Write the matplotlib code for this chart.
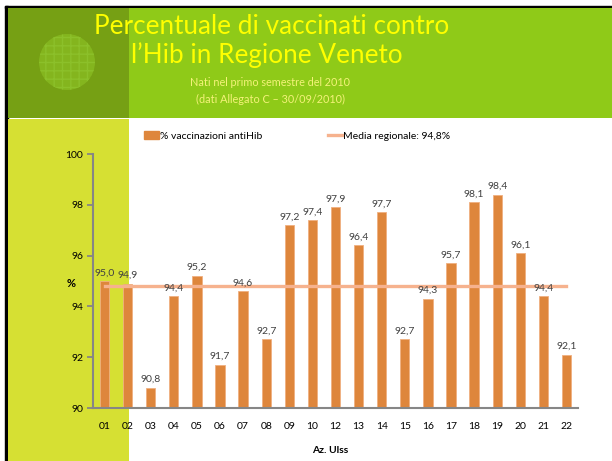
import numpy as np
import matplotlib
matplotlib.use("Agg")
import matplotlib.pyplot as plt
from matplotlib.patches import Rectangle, Circle
from matplotlib.lines import Line2D
from matplotlib.patches import Patch

# Data
ulss = ["01", "02", "03", "04", "05", "06", "07", "08", "09", "10", "12",
        "13", "14", "15", "16", "17", "18", "19", "20", "21", "22"]
vacc = [95.0, 94.9, 90.8, 94.4, 95.2, 91.7, 94.6, 92.7, 97.2, 97.4, 97.9,
        96.4, 97.7, 92.7, 94.3, 95.7, 98.1, 98.4, 96.1, 94.4, 92.1]
media = 94.8

W, H = 612, 461
plt.rcParams["font.family"] = ["Lato", "DejaVu Sans"]
plt.rcParams["hatch.color"] = "#92C82E"
fig = plt.figure(figsize=(W / 100, H / 100), dpi=100)

# Slide background (pixel coordinates)
bg = fig.add_axes([0, 0, 1, 1])
bg.set_xlim(0, W)
bg.set_ylim(H, 0)
bg.axis("off")
bg.add_patch(Rectangle((5, 6), W - 5, 2.5, color="black"))
bg.add_patch(Rectangle((5, 6), 2.5, H - 6, color="black"))
bg.add_patch(Rectangle((7.5, 8.5), 121, 110, color="#76A014", lw=0))
bg.add_patch(Rectangle((128.5, 8.5), W - 128.5, 110, color="#8FCA18", lw=0))
bg.add_patch(Rectangle((7.5, 118.5), 121, H - 118.5, color="#D6E033", lw=0))
bg.add_patch(Circle((67, 62), 28, facecolor="#84B51E", edgecolor="#8CC02A",
                    hatch="++", lw=0))

bg.text(272, 26, "Percentuale di vaccinati contro", color="#FFFF00",
        fontsize=18.8, ha="center", va="center")
bg.text(267, 55, "l\u2019Hib in Regione Veneto", color="#FFFF00",
        fontsize=18.8, ha="center", va="center")
bg.text(270, 82, "Nati nel primo semestre del 2010", color="#F4F27A",
        fontsize=7.8, ha="center", va="center")
bg.text(270, 99, "(dati Allegato C \u2013 30/09/2010)", color="#F4F27A",
        fontsize=7.8, ha="center", va="center")

# Chart
ax = fig.add_axes([93 / W, 1 - 408 / H, (578 - 93) / W, (408 - 154) / H])
ax.patch.set_alpha(0)
x = np.arange(len(ulss))
ax.bar(x, vacc, width=0.4, color="#DE863C", edgecolor="#F0B080",
       linewidth=0.6, zorder=2)
ax.plot([x[0], x[-1]], [media, media], color="#F6B28E", lw=2.4, zorder=3)

for xi, v in zip(x, vacc):
    ax.text(xi, v + 0.15, f"{v:.1f}".replace(".", ","), ha="center",
            va="bottom", fontsize=7.5, color="#404040", zorder=4)

ax.set_xlim(-0.5, len(ulss) - 0.5)
ax.set_ylim(90, 100)
ax.set_yticks([90, 92, 94, 96, 98, 100])
ax.set_xticks(x)
ax.set_xticklabels(ulss, fontsize=7.5)
ax.tick_params(axis="y", labelsize=7.5, length=4, width=1.3, color="#868686", pad=3)
ax.tick_params(axis="x", length=0, pad=10)
for s in ["top", "right"]:
    ax.spines[s].set_visible(False)
for s in ["left", "bottom"]:
    ax.spines[s].set_color("#868686")
    ax.spines[s].set_linewidth(1.5)

ax.set_ylabel("%", rotation=0, fontsize=8, fontweight="bold")
ax.yaxis.set_label_coords(-0.045, 0.47)
ax.set_xlabel("Az. Ulss", fontsize=7.5, fontweight="bold")
ax.xaxis.set_label_coords(0.49, -0.15)

handles = [Patch(color="#DE863C"), Line2D([0], [0], color="#F6B28E", lw=2.4)]
fig.legend(handles, ["% vaccinazioni antiHib", "Media regionale: 94,8%"],
           loc="center left", bbox_to_anchor=(140 / W, 1 - 136 / H),
           ncol=2, frameon=False, fontsize=7.5, handlelength=1.4,
           handletextpad=0.1, columnspacing=6.3, borderaxespad=0)

fig.savefig("out.png", dpi=100)
